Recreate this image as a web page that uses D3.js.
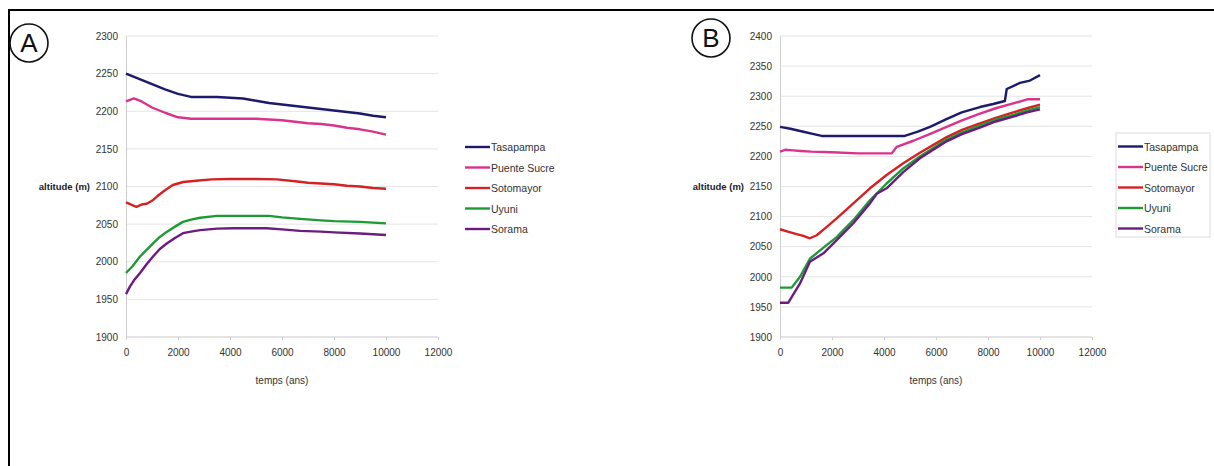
<!DOCTYPE html>
<html>
<head>
<meta charset="utf-8">
<script src="https://cdn.jsdelivr.net/npm/d3@7"></script>
<style>
  html, body { margin: 0; padding: 0; background: #ffffff; }
  svg { display: block; font-family: "Liberation Sans", Arial, sans-serif; }
</style>
</head>
<body>
<svg id="chart" width="1214" height="466"></svg>
<script>
// ---------- DATA ----------
const seriesNames = ["Tasapampa", "Puente Sucre", "Sotomayor", "Uyuni", "Sorama"];
const seriesColors = ["#1c1a6b", "#d9348c", "#d42124", "#1e9a34", "#6b1b82"];

const xTicks = [0, 2000, 4000, 6000, 8000, 10000, 12000];
const yTicksA = [1900, 1950, 2000, 2050, 2100, 2150, 2200, 2250, 2300];
const yTicksB = [1900, 1950, 2000, 2050, 2100, 2150, 2200, 2250, 2300, 2350, 2400];

// Panel A : [temps (ans), altitude (m)]
const tasapampaA = [[0,2250],[500,2243],[1000,2236],[1500,2229],[2000,2223],[2500,2219],[3000,2219],[3500,2219],[4000,2218],[4500,2217],[5000,2214],[5500,2211],[6000,2209],[6500,2207],[7000,2205],[7500,2203],[8000,2201],[8500,2199],[9000,2197],[9500,2194],[10000,2192]];
const puenteSucreA = [[0,2213],[300,2217],[600,2213],[1000,2205],[1500,2198],[2000,2192],[2500,2190],[3000,2190],[4000,2190],[5000,2190],[5500,2189],[6000,2188],[6500,2186],[7000,2184],[7500,2183],[8000,2181],[8500,2178],[9000,2176],[9500,2173],[10000,2169]];
const sotomayorA = [[0,2079],[200,2076],[400,2073],[600,2076],[800,2077],[1000,2081],[1200,2087],[1500,2095],[1800,2102],[2200,2106],[2800,2108],[3300,2109.5],[4000,2110],[5000,2110],[5800,2109.5],[6500,2107],[7000,2105],[7500,2104],[8000,2103],[8500,2101],[9000,2100],[9500,2098],[10000,2097]];
const uyuniA = [[0,1985],[250,1994],[540,2007],[800,2016],[1040,2024.5],[1300,2033],[1580,2040],[1900,2047],[2190,2053],[2500,2056],[2850,2058.5],[3500,2061],[4500,2061],[5500,2061],[6000,2059],[6700,2057],[7500,2055],[8000,2054],[9000,2053],[10000,2051]];
const soramaA = [[0,1957],[150,1967],[300,1975],[540,1985],[800,1997],[1040,2007],[1300,2017],[1580,2024.5],[1900,2032],[2190,2038],[2500,2040],[2850,2042],[3500,2044],[4150,2044.5],[5400,2044.5],[6000,2043],[6700,2041],[7500,2040],[8000,2039],[9000,2037.5],[10000,2035.5]];

// Panel B
const tasapampaB = [[0,2249],[400,2246],[900,2241],[1300,2237],[1600,2234],[2500,2234],[3500,2234],[4800,2234],[5300,2241],[5770,2249],[6400,2262],[6990,2273],[7690,2282],[8200,2287],[8650,2292],[8720,2312],[9230,2322],[9615,2326],[10000,2335]];
const puenteSucreB = [[0,2208],[200,2211],[500,2210],[800,2209],[1200,2208],[2000,2207],[3000,2205],[4300,2205],[4490,2216],[5130,2226],[5800,2238],[6410,2249],[7000,2260],[7690,2271],[8300,2280],[8970,2288],[9540,2295],[10000,2295]];
const sotomayorB = [[0,2079],[300,2075],[640,2071],[900,2068],[1150,2064],[1410,2069],[1800,2083],[2180,2097],[2820,2122],[3460,2147],[4100,2169],[4740,2188.5],[5380,2206],[6410,2232],[7000,2244],[7690,2255],[8300,2264],[8970,2273],[9500,2280],[10000,2286]];
const uyuniB = [[0,1982],[450,1982],[770,2000],[1150,2030],[1540,2044],[2180,2066],[2820,2094],[3460,2127],[4100,2155],[4740,2180],[5380,2200],[6410,2228],[7000,2240],[7690,2251],[8300,2261],[8970,2269],[9500,2276],[10000,2282]];
const soramaB = [[0,1957],[320,1957],[770,1989],[1150,2025],[1670,2039],[2180,2061],[2820,2089],[3460,2122],[3720,2138],[4100,2147],[4740,2174],[5380,2197],[6410,2225],[7000,2237],[7690,2248],[8300,2258],[8970,2266],[9500,2273],[10000,2278]];

const panelAData = [tasapampaA, puenteSucreA, sotomayorA, uyuniA, soramaA];
const panelBData = [tasapampaB, puenteSucreB, sotomayorB, uyuniB, soramaB];

// ---------- DRAW ----------
const svg = d3.select("#chart");
svg.append("rect").attr("width", 1214).attr("height", 466).attr("fill", "#ffffff");

// outer frame (top and left)
svg.append("line").attr("x1", 8).attr("x2", 1214).attr("y1", 10).attr("y2", 10)
  .attr("stroke", "#000").attr("stroke-width", 2);
svg.append("line").attr("x1", 9).attr("x2", 9).attr("y1", 9).attr("y2", 466)
  .attr("stroke", "#000").attr("stroke-width", 2);

function drawPanel(cfg) {
  const x = d3.scaleLinear().domain([0, 12000]).range([cfg.left, cfg.left + 312]);
  const y = d3.scaleLinear().domain(cfg.yDomain).range([337, 36]);
  const g = svg.append("g");

  // gridlines
  g.append("g").selectAll("line").data(cfg.yTicks).join("line")
    .attr("x1", x(0)).attr("x2", x(12000))
    .attr("y1", d => y(d)).attr("y2", d => y(d))
    .attr("stroke", d => d === cfg.yDomain[0] ? "#c9c9c9" : "#e4e4e4").attr("stroke-width", 1);

  // y axis
  const yAxis = d3.axisLeft(y).tickValues(cfg.yTicks).tickSize(0).tickPadding(8).tickFormat(d3.format("d"));
  const ya = g.append("g").attr("transform", `translate(${x(0)},0)`).call(yAxis);
  ya.select(".domain").attr("stroke", "#cfcfcf");
  ya.selectAll("text").attr("font-size", 10).attr("fill", "#333").attr("font-family", "Liberation Sans, Arial, sans-serif");

  // x axis
  const xAxis = d3.axisBottom(x).tickValues(xTicks).tickSize(3).tickPadding(9).tickFormat(d3.format("d"));
  const xa = g.append("g").attr("transform", `translate(0,${y(cfg.yDomain[0])})`).call(xAxis);
  xa.select(".domain").remove();
  xa.selectAll("line").attr("stroke", "#cfcfcf");
  xa.selectAll("text").attr("font-size", 10).attr("fill", "#333").attr("font-family", "Liberation Sans, Arial, sans-serif");

  // axis titles
  g.append("text").attr("x", cfg.left - 36).attr("y", (y(cfg.yDomain[0]) + y(cfg.yDomain[1])) / 2 + 3.5)
    .attr("text-anchor", "end").attr("font-size", 9.5).attr("font-weight", "bold").attr("fill", "#222")
    .text("altitude (m)");
  g.append("text").attr("x", x(6000)).attr("y", 384)
    .attr("text-anchor", "middle").attr("font-size", 10).attr("fill", "#333")
    .text("temps (ans)");

  // lines
  const line = d3.line().x(d => x(d[0])).y(d => y(d[1]));
  g.append("g").selectAll("path").data(cfg.data).join("path")
    .attr("d", line).attr("fill", "none")
    .attr("stroke", (d, i) => seriesColors[i]).attr("stroke-width", 2.4)
    .attr("stroke-linejoin", "round");

  // legend
  const lg = g.append("g");
  if (cfg.legendBox) {
    lg.append("rect").attr("x", cfg.legendBox[0]).attr("y", cfg.legendBox[1])
      .attr("width", cfg.legendBox[2]).attr("height", cfg.legendBox[3])
      .attr("fill", "#fff").attr("stroke", "#dcdcdc");
  }
  const items = lg.selectAll("g.item").data(seriesNames).join("g")
    .attr("transform", (d, i) => `translate(${cfg.legendX},${cfg.legendY + i * 20.5})`);
  items.append("line").attr("x1", 0).attr("x2", 25).attr("y1", 0).attr("y2", 0)
    .attr("stroke", (d, i) => seriesColors[i]).attr("stroke-width", 2.4);
  items.append("text").attr("x", 26).attr("y", 4).attr("font-size", 10.5).attr("fill", "#333").text(d => d);

  // panel letter
  svg.append("circle").attr("cx", cfg.circle[0]).attr("cy", cfg.circle[1]).attr("r", 19)
    .attr("fill", "none").attr("stroke", "#111").attr("stroke-width", 1.6);
  svg.append("text").attr("x", cfg.circle[0]).attr("y", cfg.circle[1] + 9)
    .attr("text-anchor", "middle").attr("font-size", 26).attr("fill", "#111")
    .text(cfg.letter);
}

drawPanel({
  left: 126, yDomain: [1900, 2300], yTicks: yTicksA, data: panelAData,
  legendX: 465, legendY: 147, legendBox: null, circle: [29, 43], letter: "A"
});
drawPanel({
  left: 780, yDomain: [1900, 2400], yTicks: yTicksB, data: panelBData,
  legendX: 1118, legendY: 146.5, legendBox: [1116, 133, 94, 104], circle: [711, 38], letter: "B"
});
</script>
</body>
</html>
